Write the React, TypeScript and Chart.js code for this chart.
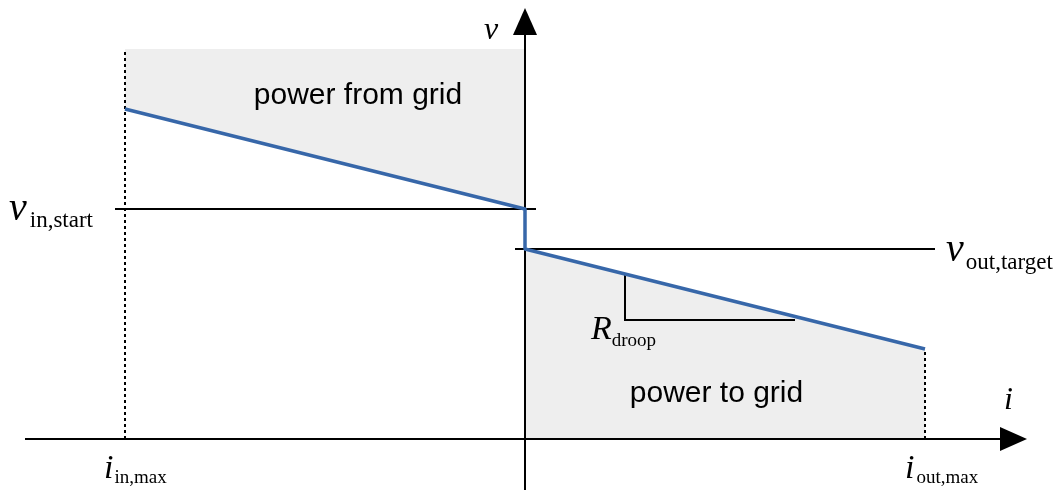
import React, { useEffect, useRef } from "react";
import { Chart, registerables } from "chart.js";

Chart.register(...registerables);

// ---- data (diagram units: current i, voltage v) ----
const iInMax = -4;
const iOutMax = 4;
const vInStart = 2.3;
const vOutTarget = 1.9;
const vGridTop = 3.9;

const droopCurrent = [iInMax, 0, 0, iOutMax];
const droopVoltage = [3.3, vInStart, vOutTarget, 0.9];

const rDroopCurrent = [1.0, 1.0, 2.7];
const rDroopVoltage = [1.65, 1.19, 1.19];

const xAxisRange = [-5.0, 4.75];
const yAxisRange = [-0.51, 4.04];

const areaLabels = ["power from grid", "power to grid"];

const pts = (xs: number[], ys: number[]) => xs.map((x, k) => ({ x, y: ys[k] }));

const BLUE = "#3767a9";
const GRAY = "#eeeeee";
const SERIF = '"Liberation Serif", "DejaVu Serif", serif';
const SANS = '"Liberation Sans", Arial, sans-serif';

const labelsPlugin = {
  id: "diagramLabels",
  afterDatasetsDraw(chart: any) {
    const { ctx, scales } = chart;
    const X = (v: number) => scales.x.getPixelForValue(v);
    const Y = (v: number) => scales.y.getPixelForValue(v);
    ctx.save();
    ctx.fillStyle = "#000";
    // arrowheads
    const ax = X(xAxisRange[1]);
    const ay = Y(0);
    ctx.beginPath();
    ctx.moveTo(ax, ay - 12);
    ctx.lineTo(ax + 27, ay);
    ctx.lineTo(ax, ay + 12);
    ctx.closePath();
    ctx.fill();
    const bx = X(0);
    const by = Y(yAxisRange[1]);
    ctx.beginPath();
    ctx.moveTo(bx - 12, by);
    ctx.lineTo(bx, by - 27);
    ctx.lineTo(bx + 12, by);
    ctx.closePath();
    ctx.fill();

    // area labels
    ctx.textAlign = "center";
    ctx.textBaseline = "middle";
    ctx.font = `30px ${SANS}`;
    ctx.fillText(areaLabels[0], X(iInMax / 2 + 0.33), Y(3.43));
    ctx.fillText(areaLabels[1], X(iOutMax / 2 - 0.085), Y(0.45));

    const sub = (main: string, s: string, x: number, y: number, mainSize: number, subSize: number, gap: number, drop: number) => {
      ctx.textAlign = "left";
      ctx.textBaseline = "alphabetic";
      ctx.font = `italic ${mainSize}px ${SERIF}`;
      ctx.fillText(main, x, y);
      const w = ctx.measureText(main).width;
      if (s) {
        ctx.font = `${subSize}px ${SERIF}`;
        ctx.fillText(s, x + w + gap, y + drop);
      }
    };
    // axis names
    sub("v", "", X(0) - 41, Y(yAxisRange[1]) + 4, 32, 0, 0, 0);
    sub("i", "", X(xAxisRange[1]) + 4, Y(0) - 30, 32, 0, 0, 0);
    // v labels
    sub("v", "in,start", 9, Y(vInStart) + 11, 40, 23, 3, 7);
    sub("v", "out,target", X(iOutMax) + 21, Y(vOutTarget) + 12, 40, 23, 2, 8);
    // R droop
    sub("R", "droop", X(rDroopCurrent[0]) - 34, Y(rDroopVoltage[1]) + 19, 34, 19, 0, 7);
    // i labels
    sub("i", "in,max", X(iInMax) - 21, Y(0) + 39, 34, 19, 1, 5);
    sub("i", "out,max", X(iOutMax) - 20, Y(0) + 39, 34, 19, 2, 5);
    ctx.restore();
  },
};

export default function App() {
  const ref = useRef<HTMLCanvasElement>(null);
  useEffect(() => {
    document.body.style.margin = "0";
    const blackLine = (data: any[], extra: any = {}) => ({
      data,
      borderColor: "#000",
      borderWidth: 2,
      pointRadius: 0,
      fill: false,
      order: 5,
      ...extra,
    });
    const chart = new Chart(ref.current!, {
      type: "line",
      data: {
        datasets: [
          // gray area: power from grid (between top and droop line)
          {
            data: pts([iInMax, 0], [vGridTop, vGridTop]),
            borderWidth: 0,
            borderColor: "rgba(0,0,0,0)",
            backgroundColor: GRAY,
            pointRadius: 0,
            fill: "+1",
            order: 10,
          },
          {
            data: pts(droopCurrent.slice(0, 2), droopVoltage.slice(0, 2)),
            borderWidth: 0,
            borderColor: "rgba(0,0,0,0)",
            pointRadius: 0,
            fill: false,
            order: 10,
          },
          // gray area: power to grid
          {
            data: pts(droopCurrent.slice(2), droopVoltage.slice(2)),
            borderWidth: 0,
            borderColor: "rgba(0,0,0,0)",
            backgroundColor: GRAY,
            pointRadius: 0,
            fill: "origin",
            order: 10,
          },
          // reference lines
          blackLine(pts([iInMax - 0.1, 0.11], [vInStart, vInStart])),
          blackLine(pts([-0.1, iOutMax + 0.1], [vOutTarget, vOutTarget])),
          // dotted limits
          blackLine(pts([iInMax, iInMax], [0, vGridTop]), { borderDash: [3, 3] }),
          blackLine(pts([iOutMax, iOutMax], [0, droopVoltage[3]]), { borderDash: [3, 3] }),
          // R droop triangle
          blackLine(pts(rDroopCurrent, rDroopVoltage)),
          // axes
          blackLine(pts(xAxisRange, [0, 0])),
          blackLine(pts([0, 0], yAxisRange)),
          // droop characteristic (drawn on top)
          {
            data: pts(droopCurrent, droopVoltage),
            borderColor: BLUE,
            borderWidth: 3.5,
            borderJoinStyle: "round",
            pointRadius: 0,
            fill: false,
            order: 0,
          },
        ],
      },
      options: {
        animation: false,
        responsive: false,
        layout: { padding: 0 },
        parsing: false as any,
        scales: {
          x: { type: "linear", min: -5.25, max: 5.37, display: false },
          y: { type: "linear", min: -0.53, max: 4.39, display: false },
        },
        plugins: {
          legend: { display: false },
          tooltip: { enabled: false },
          filler: { drawTime: "beforeDatasetsDraw" } as any,
        },
      },
      plugins: [labelsPlugin],
    });
    return () => chart.destroy();
  }, []);
  return (
    <div style={{ width: 1062, height: 492, background: "#fff" }}>
      <canvas ref={ref} width={1062} height={492} />
    </div>
  );
}
